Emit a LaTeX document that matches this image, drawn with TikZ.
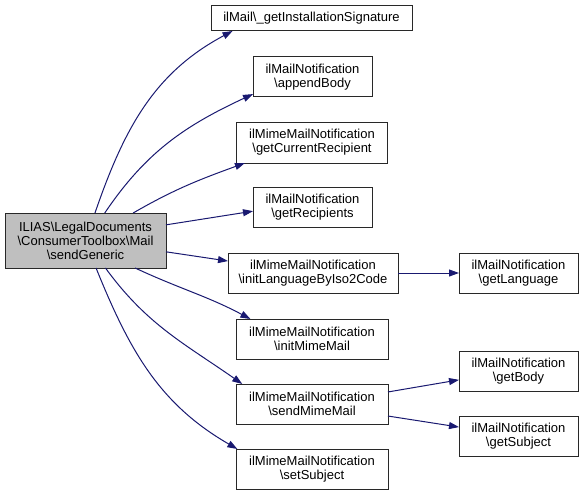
\documentclass[tikz,border=0pt]{standalone}
\usepackage{fontspec}
\setmainfont{Liberation Sans}
\usetikzlibrary{arrows.meta}
\definecolor{edgeblue}{RGB}{25,25,112}
\definecolor{maingray}{RGB}{191,191,191}
\definecolor{boxline}{RGB}{40,40,40}
\begin{document}
\begin{tikzpicture}[x=1pt,y=-1pt,
  box/.style={draw=boxline, line width=1pt, align=center, inner sep=0pt, outer sep=0pt,
    font=\fontsize{13}{14}\selectfont, fill=white, minimum height=40pt},
  edge/.style={draw=edgeblue, line width=1pt, -{Triangle[length=10pt,width=7pt]}}]
\useasboundingbox (0,0) rectangle (584,495);
\node[box, fill=maingray, minimum width=161pt, minimum height=55pt] (main) at (85.5,240.5)
  {ILIAS\textbackslash LegalDocuments\\\textbackslash ConsumerToolbox\textbackslash Mail\\\textbackslash sendGeneric};
\node[box, minimum width=201pt, minimum height=25pt] (b1) at (311.5,18.5) {ilMail\textbackslash\_getInstallationSignature};
\node[box, minimum width=119pt] (b2) at (312.5,77) {ilMailNotification\\\textbackslash appendBody};
\node[box, minimum width=151pt, minimum height=41pt] (b3) at (312,142.5) {ilMimeMailNotification\\\textbackslash getCurrentRecipient};
\node[box, minimum width=119pt] (b4) at (312.5,207) {ilMailNotification\\\textbackslash getRecipients};
\node[box, minimum width=170pt] (b5) at (313,273) {ilMimeMailNotification\\\textbackslash initLanguageByIso2Code};
\node[box, minimum width=152pt] (b6) at (312,339) {ilMimeMailNotification\\\textbackslash initMimeMail};
\node[box, minimum width=152pt] (b7) at (312,404) {ilMimeMailNotification\\\textbackslash sendMimeMail};
\node[box, minimum width=152pt] (b8) at (312,469) {ilMimeMailNotification\\\textbackslash setSubject};
\node[box, minimum width=119pt] (b9) at (518.5,273) {ilMailNotification\\\textbackslash getLanguage};
\node[box, minimum width=119pt] (b10) at (518.5,371.5) {ilMailNotification\\\textbackslash getBody};
\node[box, minimum width=119pt] (b11) at (518.5,436.5) {ilMailNotification\\\textbackslash getSubject};

\draw[edge] (main.71) to[out=71,in=208] (b1.189.5);
\draw[edge] (main.55) to[out=56,in=205] (b2.196.8);
\draw[edge] (main.30) to[out=30,in=200] (b3.197);
\draw[edge] (main.11) -- (b4.184.8);
\draw[edge] (main.-8.8) -- (b5.172);
\draw[edge] (main.-29) to[out=-25,in=152] (b6.162.6);
\draw[edge] (main.-54.7) to[out=-54,in=145] (b7.164.9);
\draw[edge] (main.-69) to[out=-68,in=150] (b8.165);
\draw[edge] (b5.east) -- (b9.west);
\draw[edge] (b7.9.7) -- (b10.188);
\draw[edge] (b7.-9) -- (b11.171);
\end{tikzpicture}
\end{document}
